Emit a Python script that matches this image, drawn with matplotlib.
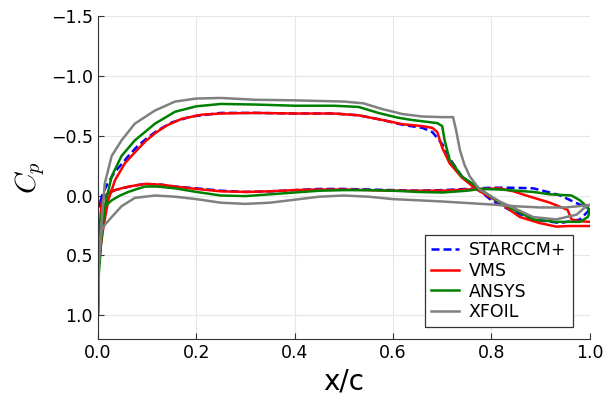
import matplotlib
matplotlib.use("Agg")
import matplotlib.pyplot as plt
import numpy as np

# =========================
# Datos
# =========================
STAR_X_UP = [0.0, 0.005, 0.01, 0.02, 0.035, 0.05, 0.062, 0.08, 0.10, 0.12, 0.15, 0.19, 0.25, 0.32, 0.40, 0.48,
             0.53, 0.58, 0.62, 0.66, 0.68, 0.70, 0.72, 0.74, 0.77, 0.80, 0.837, 0.885, 0.94, 0.98, 0.996, 1.0]
STAR_CP_UP = [0.10, 0.05, -0.02, -0.10, -0.20, -0.27, -0.33, -0.41, -0.48, -0.54, -0.61, -0.66, -0.69, -0.69,
              -0.685, -0.685, -0.67, -0.63, -0.59, -0.565, -0.53, -0.43, -0.28, -0.16, -0.06, 0.04, 0.12, 0.20,
              0.23, 0.20, 0.135, 0.12]
STAR_X_LO = [0.0, 0.005, 0.01, 0.021, 0.035, 0.048, 0.07, 0.096, 0.13, 0.157, 0.20, 0.25, 0.30, 0.35, 0.40, 0.45,
             0.50, 0.55, 0.60, 0.65, 0.70, 0.75, 0.80, 0.84, 0.885, 0.919, 0.94, 0.966, 0.993, 1.0]
STAR_CP_LO = [0.10, 0.06, 0.03, -0.02, -0.045, -0.06, -0.08, -0.097, -0.09, -0.075, -0.06, -0.04, -0.03, -0.035,
              -0.045, -0.055, -0.055, -0.05, -0.045, -0.04, -0.045, -0.055, -0.065, -0.065, -0.06, -0.025, 0.0,
              0.05, 0.10, 0.12]

VMS_X_UP = [0.0, 0.003, 0.006, 0.01, 0.014, 0.021, 0.035, 0.055, 0.075, 0.096, 0.116, 0.14, 0.17, 0.21, 0.25,
            0.32, 0.40, 0.48, 0.53, 0.58, 0.62, 0.66, 0.68, 0.69, 0.70, 0.715, 0.74, 0.77, 0.817, 0.858, 0.898,
            0.932, 0.955, 0.98, 1.0]
VMS_CP_UP = [0.62, 0.55, 0.42, 0.30, 0.20, 0.04, -0.13, -0.27, -0.36, -0.45, -0.52, -0.585, -0.64, -0.675, -0.685,
             -0.69, -0.685, -0.685, -0.67, -0.63, -0.595, -0.58, -0.565, -0.53, -0.40, -0.27, -0.15, -0.05, 0.06,
             0.18, 0.23, 0.26, 0.255, 0.255, 0.255]
VMS_X_LO = [0.0, 0.003, 0.0075, 0.013, 0.021, 0.035, 0.048, 0.07, 0.096, 0.13, 0.157, 0.20, 0.25, 0.30, 0.35,
            0.40, 0.45, 0.50, 0.55, 0.60, 0.65, 0.70, 0.75, 0.817, 0.845, 0.871, 0.919, 0.955, 0.963, 0.98, 1.0]
VMS_CP_LO = [0.62, 0.30, 0.06, 0.01, -0.02, -0.045, -0.06, -0.08, -0.097, -0.09, -0.075, -0.055, -0.035, -0.03,
             -0.035, -0.045, -0.05, -0.05, -0.045, -0.04, -0.04, -0.04, -0.05, -0.06, -0.035, 0.0, 0.06, 0.12,
             0.20, 0.215, 0.22]

ANSYS_X_UP = [0.0, 0.002, 0.0075, 0.014, 0.028, 0.048, 0.075, 0.116, 0.157, 0.2, 0.25, 0.32, 0.4, 0.48, 0.53,
              0.57, 0.61, 0.64, 0.67, 0.69, 0.70, 0.705, 0.715, 0.74, 0.775, 0.81, 0.837, 0.885, 0.932, 0.98,
              0.996, 1.0]
ANSYS_CP_UP = [1.0, 0.65, 0.34, 0.09, -0.16, -0.33, -0.46, -0.60, -0.70, -0.745, -0.765, -0.76, -0.75, -0.75,
               -0.74, -0.69, -0.65, -0.63, -0.615, -0.605, -0.58, -0.46, -0.30, -0.16, -0.06, 0.04, 0.10, 0.20,
               0.22, 0.22, 0.18, 0.14]
ANSYS_X_LO = [0.0, 0.002, 0.0075, 0.015, 0.028, 0.045, 0.062, 0.08, 0.096, 0.12, 0.157, 0.20, 0.25, 0.30, 0.35,
              0.40, 0.45, 0.50, 0.55, 0.60, 0.65, 0.70, 0.75, 0.78, 0.817, 0.885, 0.919, 0.963, 0.98, 0.996, 1.0]
ANSYS_CP_LO = [1.0, 0.45, 0.15, 0.09, 0.04, 0.0, -0.03, -0.055, -0.075, -0.075, -0.06, -0.03, 0.0, 0.005, -0.01,
               -0.025, -0.04, -0.045, -0.045, -0.04, -0.03, -0.025, -0.04, -0.055, -0.05, -0.03, -0.01, 0.0,
               0.04, 0.10, 0.14]

XFOIL_X_UP = [0.0, 0.002, 0.0075, 0.014, 0.028, 0.048, 0.075, 0.116, 0.157, 0.2, 0.25, 0.32, 0.4, 0.5, 0.54,
              0.58, 0.62, 0.66, 0.70, 0.722, 0.728, 0.736, 0.745, 0.756, 0.776, 0.817, 0.885, 0.932, 0.973,
              0.996, 1.0]
XFOIL_CP_UP = [1.0, 0.55, 0.23, -0.10, -0.33, -0.46, -0.60, -0.71, -0.785, -0.81, -0.815, -0.80, -0.795, -0.785,
               -0.77, -0.72, -0.68, -0.66, -0.655, -0.655, -0.55, -0.38, -0.26, -0.16, -0.05, 0.05, 0.18, 0.20,
               0.16, 0.08, 0.08]
XFOIL_X_LO = [0.0, 0.002, 0.0075, 0.015, 0.028, 0.048, 0.075, 0.116, 0.157, 0.20, 0.25, 0.30, 0.35, 0.40, 0.45,
              0.50, 0.55, 0.60, 0.70, 0.80, 0.85, 0.90, 0.95, 1.0]
XFOIL_CP_LO = [1.0, 0.50, 0.29, 0.24, 0.18, 0.09, 0.02, 0.0, 0.01, 0.03, 0.06, 0.07, 0.06, 0.035, 0.01, 0.0,
               0.01, 0.03, 0.05, 0.075, 0.09, 0.10, 0.10, 0.08]

X_TICKS = [0.0, 0.2, 0.4, 0.6, 0.8, 1.0]
Y_TICKS = [-1.5, -1.0, -0.5, 0.0, 0.5, 1.0]


def loop(x_up, cp_up, x_lo, cp_lo):
    # recorrido cerrado: borde de salida -> ataque (extradós) -> salida (intradós)
    x = list(x_up[::-1]) + list(x_lo)
    cp = list(cp_up[::-1]) + list(cp_lo)
    return np.array(x), np.array(cp)


def main() -> None:
    plt.rcParams["mathtext.fontset"] = "cm"
    fig = plt.figure(figsize=(6.08, 3.99), dpi=100)
    ax = fig.add_axes([0.161, 0.150, 0.809, 0.810])

    series = [
        ("STARCCM+", "#0000ff", "--", STAR_X_UP, STAR_CP_UP, STAR_X_LO, STAR_CP_LO),
        ("VMS", "#ff0000", "-", VMS_X_UP, VMS_CP_UP, VMS_X_LO, VMS_CP_LO),
        ("ANSYS", "#008000", "-", ANSYS_X_UP, ANSYS_CP_UP, ANSYS_X_LO, ANSYS_CP_LO),
        ("XFOIL", "#808080", "-", XFOIL_X_UP, XFOIL_CP_UP, XFOIL_X_LO, XFOIL_CP_LO),
    ]
    for label, color, ls, xu, cu, xl, cl in series:
        x, cp = loop(xu, cu, xl, cl)
        line, = ax.plot(x, cp, color=color, lw=1.8, label=label, solid_joinstyle="round")
        if ls == "--":
            line.set_dashes((3.2, 1.6))

    ax.set_xlim(0.0, 1.0)
    ax.set_ylim(1.2, -1.5)
    ax.set_xticks(X_TICKS)
    ax.set_yticks(Y_TICKS)
    ax.grid(True, color="#e6e6e6", lw=0.8)
    ax.set_axisbelow(True)
    for side in ("top", "right"):
        ax.spines[side].set_visible(False)
    for side in ("left", "bottom"):
        ax.spines[side].set_color("#333333")
    ax.tick_params(direction="in", length=4, labelsize=12.5, colors="#333333", labelcolor="black")

    ax.set_xlabel("x/c", fontsize=20)
    ax.set_ylabel("$C_p$", fontsize=21, labelpad=3)

    leg = ax.legend(loc="lower right", bbox_to_anchor=(0.965, 0.037), borderaxespad=0.0, fontsize=12.5,
                    fancybox=False, framealpha=1.0, edgecolor="#333333",
                    handlelength=1.6, handletextpad=0.6, borderpad=0.35, labelspacing=0.15)
    leg.get_frame().set_linewidth(0.9)

    fig.savefig("out.png", dpi=100)
    plt.close(fig)


if __name__ == "__main__":
    main()
